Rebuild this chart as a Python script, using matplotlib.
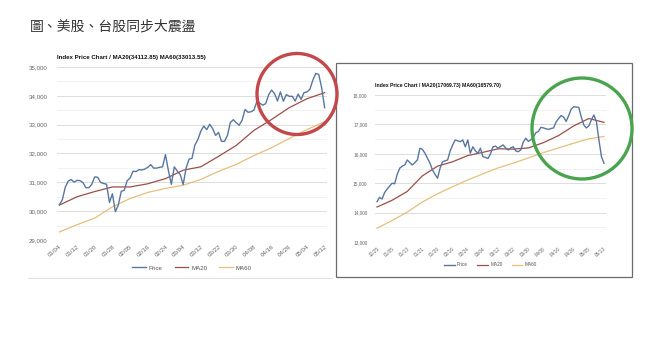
import matplotlib
matplotlib.use('Agg')
import matplotlib.pyplot as plt
from matplotlib.patches import Ellipse, Rectangle
from matplotlib.ticker import MultipleLocator, FuncFormatter

# Dow Jones (left) daily closes 01/04 - 05/12
us_price = [30223, 30392, 30829, 31041, 31098, 31009, 31068, 31061, 30992, 30814,
            30814, 30930, 31188, 31176, 30997, 30960, 30937, 30303, 30603, 29983,
            30212, 30688, 30724, 31056, 31148, 31386, 31375, 31438, 31431, 31458,
            31523, 31613, 31494, 31494, 31522, 31537, 31962, 31402, 30932, 31536,
            31391, 31270, 30924, 31496, 31802, 31833, 32297, 32486, 32779, 32953,
            32826, 33015, 32862, 32628, 32732, 32423, 32420, 32619, 33072, 33171,
            33067, 32982, 33153, 33527, 33430, 33446, 33504, 33801, 33746, 33677,
            33730, 34036, 34201, 34078, 33821, 34137, 33815, 34043, 33982, 33985,
            33820, 34060, 33875, 34114, 34133, 34230, 34548, 34778, 34743, 34270,
            33587]
# moving averages read at every labelled date
us_ma20 = [30210, 30500, 30680, 30840, 30840, 30950, 31130, 31420,
           31540, 31900, 32280, 32800, 33180, 33590, 33900, 34110]
us_ma60 = [29280, 29530, 29760, 30150, 30440, 30650, 30790, 30900,
           31100, 31380, 31620, 31930, 32200, 32520, 32830, 33100]
us_labels = ['01/04', '01/12', '01/20', '01/28', '02/05', '02/16', '02/24', '03/04',
             '03/12', '03/22', '03/30', '04/08', '04/16', '04/26', '05/04', '05/12']

# TAIEX (right) daily closes 12/25 - 05/13
tw_price = [14370, 14520, 14460, 14680, 14800, 14900, 15000, 14980, 15300, 15510,
            15580, 15620, 15790, 15700, 15620, 15700, 15790, 16190, 16150, 16020,
            15850, 15680, 15450, 15300, 15170, 15510, 15730, 15760, 15790, 16100,
            16300, 16470, 16440, 16410, 16470, 16240, 16470, 16020, 16240, 16100,
            16020, 16190, 15900, 15880, 15840, 16000, 16240, 16260, 16190, 16250,
            16300, 16200, 16130, 16200, 16240, 16100, 16070, 16130, 16400, 16530,
            16420, 16480, 16560, 16720, 16760, 16900, 16880, 16850, 16830, 16860,
            16880, 17080, 17200, 17300, 17250, 17100, 17300, 17520, 17600, 17590,
            17580, 17250, 16980, 16880, 16950, 17150, 17320, 17090, 16470, 15900,
            15680]
tw_ma20 = [14190, 14420, 14720, 15250, 15580, 15730, 15940, 16050,
           16170, 16160, 16200, 16380, 16620, 16950, 17200, 17070]
tw_ma60 = [13470, 13730, 14020, 14360, 14640, 14880, 15110, 15320,
           15520, 15680, 15860, 16040, 16200, 16360, 16510, 16590]
tw_labels = ['12/25', '01/05', '01/13', '01/21', '01/29', '02/16', '02/24', '03/04',
             '03/12', '03/22', '03/30', '04/08', '04/16', '04/26', '05/05', '05/13']

W, H = 656, 352
fig = plt.figure(figsize=(W / 100, H / 100), dpi=100)
plt.rcParams['font.family'] = ['Liberation Sans', 'DejaVu Sans']


def draw_chart(px_box, price, ma20, ma60, labels, ylim, title, fs, tfs, ypad, leg_y):
    x0, y0, x1, y1 = px_box
    ax = fig.add_axes([x0 / W, 1 - y1 / H, (x1 - x0) / W, (y1 - y0) / H])
    step = (len(price) - 1) // (len(labels) - 1)
    tick_pos = list(range(0, len(price), step))
    ax.plot(range(len(price)), price, color='#5876a0', lw=1.0, label='Price', zorder=3)
    ax.plot(tick_pos, ma20, color='#9c4e48', lw=0.9, label='MA20', zorder=2)
    ax.plot(tick_pos, ma60, color='#e6bf7a', lw=0.9, label='MA60', zorder=2)
    ax.set_xlim(-0.8, len(price) - 0.2)
    ax.set_ylim(*ylim)
    ax.yaxis.set_major_locator(MultipleLocator(1000))
    ax.yaxis.set_minor_locator(MultipleLocator(500))
    ax.yaxis.set_major_formatter(FuncFormatter(lambda v, p: f'{int(v):,}'))
    ax.grid(axis='y', which='major', color='#d8d8d8', lw=0.6)
    ax.grid(axis='y', which='minor', color='#ececec', lw=0.5)
    ax.set_axisbelow(True)
    ax.set_xticks(tick_pos)
    ax.set_xticklabels(labels, rotation=40, ha='right', rotation_mode='anchor')
    ax.tick_params(which='both', length=0, labelsize=fs, colors='#666666')
    ax.tick_params(axis='y', pad=ypad)
    ax.tick_params(axis='x', pad=3)
    for s in ax.spines.values():
        s.set_visible(False)
    ax.set_title(title, loc='left', fontsize=tfs, fontweight='bold', pad=6,
                 color='#111111', x=0.0)
    leg = ax.legend(loc='center', bbox_to_anchor=(0.5, -(leg_y - y1) / (y1 - y0)),
                    ncol=3, frameon=False, fontsize=fs, handlelength=2.2,
                    handletextpad=0.5, columnspacing=2.0)
    for t in leg.get_texts():
        t.set_color('#555555')
    return ax


draw_chart((57, 67, 327, 240), us_price, us_ma20, us_ma60, us_labels, (29000, 35000),
           'Index Price Chart / MA20(34112.85) MA60(33013.55)', 4.4, 4.4, 7, 268)
draw_chart((375, 95, 606, 242), tw_price, tw_ma20, tw_ma60, tw_labels, (13000, 18000),
           'Index Price Chart / MA20(17069.73) MA60(16579.70)', 3.4, 3.7, 5.5, 265)

# overlay for the frame and circles, in pixel coordinates
ov = fig.add_axes([0, 0, 1, 1], zorder=10)
ov.set_xlim(0, W)
ov.set_ylim(H, 0)
ov.axis('off')
ov.plot([28, 332], [278, 278], color='#e2e2e2', lw=0.8)
ov.add_patch(Rectangle((336, 63), 296, 214, fill=False, ec='#6b6b6b', lw=0.9))
ov.add_patch(Ellipse((297, 94), 80, 81, fill=False, ec='#c3474b', lw=2.4))
ov.add_patch(Ellipse((582, 128.5), 100, 101, fill=False, ec='#4aa44f', lw=2.4))

fig.text(30 / W, 1 - 27 / H, '圖、美股、台股同步大震盪', fontsize=10, va='center', ha='left',
         color='#333333', family=['Noto Sans CJK TC', 'DejaVu Sans'])

fig.savefig('out.png', dpi=100, facecolor='white')
